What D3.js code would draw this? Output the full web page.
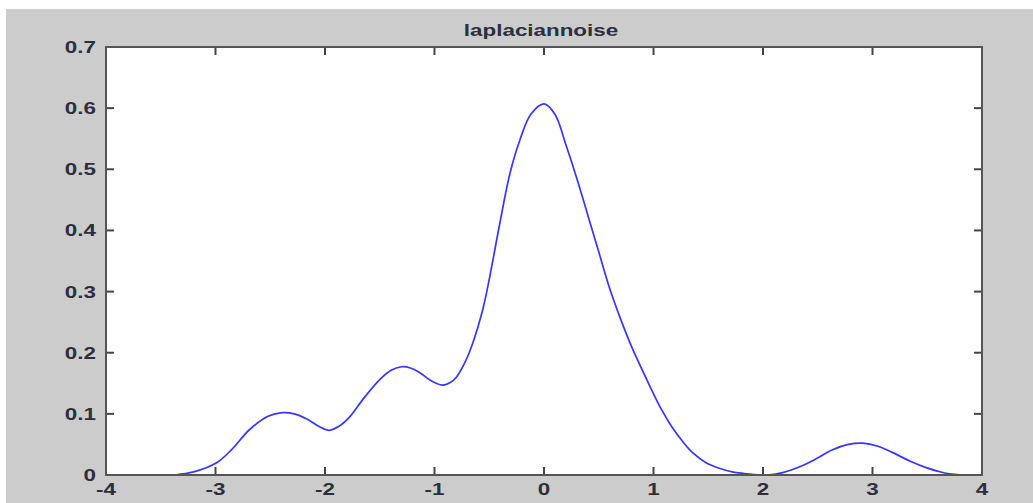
<!DOCTYPE html>
<html>
<head>
<meta charset="utf-8">
<script src="https://cdn.jsdelivr.net/npm/d3@7"></script>
<style>
  html, body { margin: 0; padding: 0; background: #fff; }
  svg { display: block; }
  .lbl { font-family: "Liberation Sans", Arial, sans-serif; font-weight: bold; font-size: 16px; fill: #2e2e3c; }
</style>
</head>
<body>
<div id="chart"></div>
<script>
// data (density estimate of laplacian noise)
const xs = [-3.37, -3.2, -2.99, -2.85, -2.69, -2.52, -2.39, -2.28, -2.17, -2.05, -1.96, -1.87, -1.77, -1.64, -1.5, -1.4, -1.3, -1.22, -1.14, -1.03, -0.93, -0.86, -0.8, -0.72, -0.65, -0.56, -0.5, -0.4, -0.31, -0.22, -0.12, 0, 0.1, 0.2, 0.3, 0.4, 0.5, 0.6, 0.7, 0.8, 0.96, 1.07, 1.17, 1.27, 1.36, 1.48, 1.6, 1.72, 1.85, 2.03, 2.18, 2.33, 2.48, 2.63, 2.78, 2.91, 3.05, 3.18, 3.34, 3.49, 3.6, 3.7, 3.86];
const ys = [0, 0.005, 0.02, 0.042, 0.074, 0.096, 0.102, 0.1, 0.092, 0.079, 0.073, 0.08, 0.096, 0.127, 0.156, 0.171, 0.177, 0.175, 0.168, 0.154, 0.147, 0.151, 0.16, 0.185, 0.216, 0.27, 0.32, 0.415, 0.494, 0.548, 0.59, 0.607, 0.59, 0.54, 0.485, 0.425, 0.365, 0.305, 0.255, 0.21, 0.148, 0.108, 0.078, 0.054, 0.036, 0.02, 0.011, 0.005, 0.002, 0, 0.004, 0.013, 0.026, 0.041, 0.05, 0.052, 0.047, 0.037, 0.023, 0.012, 0.006, 0.002, 0];
const xTicks = [-4, -3, -2, -1, 0, 1, 2, 3, 4];
const yTicks = [0, 0.1, 0.2, 0.3, 0.4, 0.5, 0.6, 0.7];
const titleText = "laplaciannoise";

const W = 1033, H = 503;
const box = { left: 106, right: 982, top: 47, bottom: 475 };
const stretch = 1.4; // the figure looks horizontally stretched

const svg = d3.select("#chart").append("svg")
  .attr("width", W)
  .attr("height", H);

// figure background
svg.append("rect")
  .attr("x", 6).attr("y", 9)
  .attr("width", W - 6).attr("height", H - 9)
  .attr("fill", "#cccccc");

// axes area
svg.append("rect")
  .attr("x", box.left).attr("y", box.top)
  .attr("width", box.right - box.left).attr("height", box.bottom - box.top)
  .attr("fill", "#fff");

const x = d3.scaleLinear().domain([-4, 4]).range([box.left, box.right]);
const y = d3.scaleLinear().domain([0, 0.7]).range([box.bottom, box.top]);

// curve
const pts = xs.map((v, i) => [v, ys[i]]);
const line = d3.line()
  .x(d => x(d[0]))
  .y(d => y(d[1]))
  .curve(d3.curveCatmullRom.alpha(0.5));

svg.append("path")
  .datum(pts)
  .attr("d", line)
  .attr("fill", "none")
  .attr("stroke", "#3636ff")
  .attr("stroke-width", 1.7);

// ticks (inside, on all four sides like matlab)
const tickLen = 8;
const tickColor = "#444";
const ticks = svg.append("g").attr("stroke", tickColor).attr("stroke-width", 2);
xTicks.forEach(t => {
  ticks.append("line").attr("x1", x(t)).attr("x2", x(t)).attr("y1", box.bottom).attr("y2", box.bottom - tickLen);
  ticks.append("line").attr("x1", x(t)).attr("x2", x(t)).attr("y1", box.top).attr("y2", box.top + tickLen);
});
yTicks.forEach(t => {
  ticks.append("line").attr("x1", box.left).attr("x2", box.left + tickLen).attr("y1", y(t)).attr("y2", y(t));
  ticks.append("line").attr("x1", box.right).attr("x2", box.right - tickLen).attr("y1", y(t)).attr("y2", y(t));
});

// box
svg.append("rect")
  .attr("x", box.left).attr("y", box.top)
  .attr("width", box.right - box.left).attr("height", box.bottom - box.top)
  .attr("fill", "none")
  .attr("stroke", "#555")
  .attr("stroke-width", 2);

// tick labels
const fmtY = d => d === 0 ? "0" : d3.format(".1f")(d);

svg.append("g").selectAll("text")
  .data(yTicks)
  .join("text")
  .attr("class", "lbl")
  .attr("text-anchor", "end")
  .attr("transform", d => `translate(${box.left - 10},${y(d) + 6}) scale(${stretch},1)`)
  .text(fmtY);

svg.append("g").selectAll("text")
  .data(xTicks)
  .join("text")
  .attr("class", "lbl")
  .attr("text-anchor", "middle")
  .attr("transform", d => `translate(${x(d)},${box.bottom + 20}) scale(${stretch},1)`)
  .text(d => d);

// title
svg.append("text")
  .attr("class", "lbl")
  .attr("text-anchor", "middle")
  .attr("transform", `translate(${(box.left + box.right) / 2 - 3},${box.top - 11}) scale(${stretch},1)`)
  .text(titleText);
</script>
</body>
</html>
